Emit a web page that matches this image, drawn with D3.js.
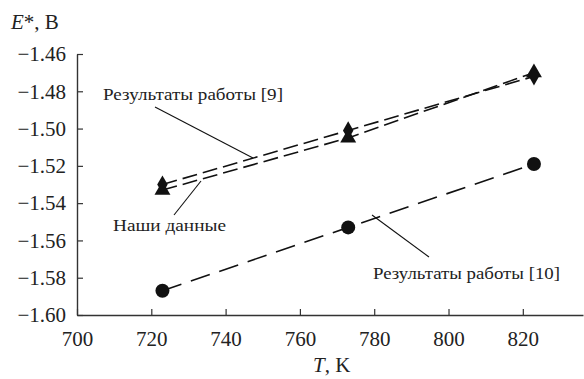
<!DOCTYPE html>
<html lang="ru">
<head>
<meta charset="utf-8">
<script src="https://cdn.jsdelivr.net/npm/d3@7/dist/d3.min.js"></script>
<style>
  html, body { margin: 0; padding: 0; background: #fff; }
  svg { display: block; font-family: "Liberation Serif", "Times New Roman", serif; }
</style>
</head>
<body>
<svg id="chart" width="584" height="379"></svg>
<script>
// Temperatures, K
const temperatures = [723, 773, 823];
// E*, V for each data set
const ourData = [-1.533, -1.505, -1.470];   // triangles
const work9 = [-1.530, -1.501, -1.472];     // diamonds
const work10 = [-1.587, -1.553, -1.519];    // circles

const xTicks = [700, 720, 740, 760, 780, 800, 820];
const yTicks = [-1.60, -1.58, -1.56, -1.54, -1.52, -1.50, -1.48, -1.46];

const serif = "'Liberation Serif', 'Times New Roman', serif";
const svg = d3.select("#chart");

const x = d3.scaleLinear().domain([700, 836.2]).range([77, 583]);
const y = d3.scaleLinear().domain([-1.60, -1.46]).range([315, 54]);

const axisColor = "#333";
const fmt = d3.format(".2f");

// x axis, ticks point inward
const gx = svg.append("g")
  .attr("transform", `translate(0,${y(-1.60)})`)
  .call(d3.axisBottom(x).tickValues(xTicks).tickSizeInner(-6).tickSizeOuter(0).tickPadding(16).tickFormat(d3.format("d")));
// y axis, ticks point inward
const gy = svg.append("g")
  .attr("transform", `translate(${x(700)},0)`)
  .call(d3.axisLeft(y).tickValues(yTicks).tickSizeInner(-6).tickSizeOuter(0).tickPadding(11).tickFormat(fmt));

[gx, gy].forEach(g => {
  g.attr("font-family", null);
  g.select(".domain").attr("stroke", axisColor).attr("stroke-width", 1.4);
  g.selectAll(".tick line").attr("stroke", axisColor).attr("stroke-width", 1.2);
  g.selectAll(".tick text")
    .attr("fill", "#222")
    .style("font-family", serif)
    .style("font-size", "21px");
});

// Axis titles
const yTitle = svg.append("text").attr("x", 11).attr("y", 29)
  .attr("fill", "#222").style("font-family", serif).style("font-size", "21px");
yTitle.append("tspan").style("font-style", "italic").text("E");
yTitle.append("tspan").text("*, В");

const xTitle = svg.append("text").attr("x", 313).attr("y", 372)
  .attr("fill", "#222").style("font-family", serif).style("font-size", "21px");
xTitle.append("tspan").style("font-style", "italic").text("T");
xTitle.append("tspan").text(", K");

// Dashed lines through each set
const line = d3.line().x((d, i) => x(temperatures[i])).y(d => y(d));
const series = [
  { values: work9, dash: "15,6" },
  { values: ourData, dash: "15,6" },
  { values: work10, dash: "20,10" }
];
series.forEach(s => {
  svg.append("path")
    .datum(s.values)
    .attr("d", line)
    .attr("fill", "none")
    .attr("stroke", "#111")
    .attr("stroke-width", 1.6)
    .attr("stroke-dasharray", s.dash);
});

// Markers
svg.append("g").selectAll("circle")
  .data(work10)
  .join("circle")
  .attr("cx", (d, i) => x(temperatures[i]))
  .attr("cy", d => y(d))
  .attr("r", 7)
  .attr("fill", "#111");

svg.append("g").selectAll("path")
  .data(ourData)
  .join("path")
  .attr("transform", (d, i) => `translate(${x(temperatures[i])},${y(d)})`)
  .attr("d", d3.symbol(d3.symbolTriangle, 110))
  .attr("fill", "#111");

svg.append("g").selectAll("path")
  .data(work9)
  .join("path")
  .attr("transform", (d, i) => `translate(${x(temperatures[i])},${y(d)})`)
  .attr("d", d3.symbol(d3.symbolDiamond, 95))
  .attr("fill", "#111");

// Annotations with leader lines
const notes = [
  { text: "Результаты работы [9]", tx: 103, ty: 100, len: 180, from: [155, 107], to: [253, 158] },
  { text: "Наши данные", tx: 113, ty: 231, len: 113, from: [174, 215], to: [201, 181] },
  { text: "Результаты работы [10]", tx: 373, ty: 279, len: 187, from: [372, 215], to: [429, 257] }
];
notes.forEach(n => {
  svg.append("line")
    .attr("x1", n.from[0]).attr("y1", n.from[1])
    .attr("x2", n.to[0]).attr("y2", n.to[1])
    .attr("stroke", "#111").attr("stroke-width", 1.1);
  svg.append("text")
    .attr("x", n.tx).attr("y", n.ty)
    .attr("fill", "#222")
    .style("font-family", serif)
    .style("font-size", "17px")
    .attr("textLength", n.len)
    .attr("lengthAdjust", "spacingAndGlyphs")
    .text(n.text);
});
</script>
</body>
</html>
